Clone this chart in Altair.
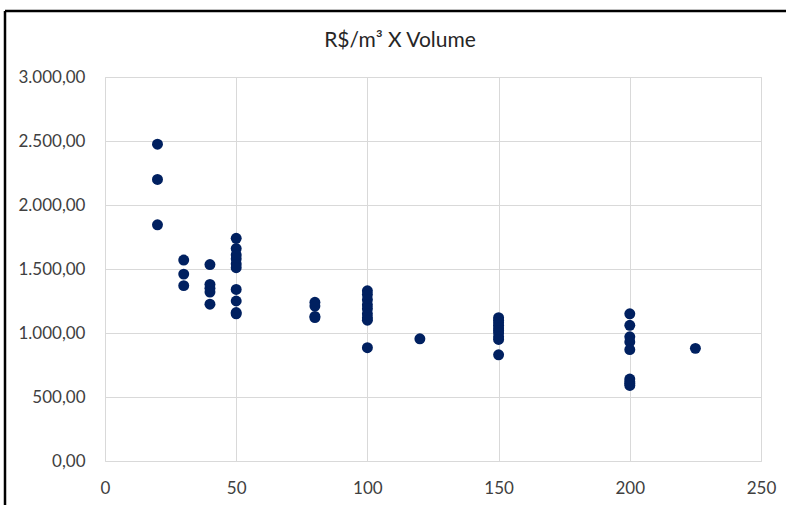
import altair as alt
import pandas as pd

# Volume (m³) groups and R$/m³ values
volumes = [20, 20, 20,
           30, 30, 30,
           40, 40, 40, 40, 40,
           50, 50, 50, 50, 50, 50, 50, 50, 50, 50,
           80, 80, 80, 80,
           100, 100, 100, 100, 100, 100, 100, 100, 100,
           120,
           150, 150, 150, 150, 150, 150, 150, 150, 150, 150,
           200, 200, 200, 200, 200, 200, 200, 200, 200,
           225]
prices = [2475, 2200, 1845,
          1570, 1460, 1370,
          1535, 1380, 1350, 1320, 1225,
          1740, 1660, 1610, 1580, 1540, 1510, 1340, 1250, 1160, 1150,
          1240, 1210, 1130, 1120,
          1330, 1300, 1260, 1220, 1190, 1150, 1120, 1100, 885,
          955,
          1120, 1100, 1080, 1060, 1040, 1020, 1000, 970, 950, 830,
          1150, 1060, 970, 930, 870, 640, 620, 605, 590,
          880]
x_ticks = [0, 50, 100, 150, 200, 250]
y_ticks = [0, 500, 1000, 1500, 2000, 2500, 3000]
title_text = "R$/m³ X Volume"

df = pd.DataFrame({"volume": volumes, "preco": prices})

FONT = "Lato"
LABEL_COLOR = "#404040"
GRID = "#d9d9d9"

points = alt.Chart(df).mark_circle(size=120, opacity=1, color="#002060").encode(
    x=alt.X("volume:Q",
            scale=alt.Scale(domain=[0, 250], nice=False, zero=True),
            axis=alt.Axis(values=x_ticks, title=None, grid=True, gridColor=GRID,
                          domain=False, ticks=False, labelPadding=19,
                          labelFontSize=17, labelColor=LABEL_COLOR, labelFont=FONT,
                          labelFlush=False)),
    y=alt.Y("preco:Q",
            scale=alt.Scale(domain=[0, 3000], nice=False),
            axis=alt.Axis(values=y_ticks, title=None, grid=True, gridColor=GRID,
                          domain=False, ticks=False, labelPadding=20,
                          labelFontSize=17, labelColor=LABEL_COLOR, labelFont=FONT,
                          labelExpr="replace(replace(replace(format(datum.value, ',.2f'), ',', '_'), '.', ','), '_', '.')")),
)

# chart title as a text mark (keeps it clear of the frame lines)
title = alt.Chart().mark_text(fontSize=21, font=FONT, color="#262626",
                              align="center", baseline="middle").encode(
    x=alt.value(295), y=alt.value(-36), text=alt.value(title_text))

# outer frame lines (top and left), like the cropped Excel chart border
frame_top = alt.Chart().mark_rule(color="black", strokeWidth=2.5).encode(
    x=alt.value(-100), x2=alt.value(700), y=alt.value(-66))
frame_left = alt.Chart().mark_rule(color="black", strokeWidth=2.5).encode(
    x=alt.value(-100), y=alt.value(-66), y2=alt.value(440))

chart = alt.layer(points, title, frame_top, frame_left).properties(
    width=656, height=384,
    autosize=alt.AutoSizeParams(type="none"),
    padding={"left": 105, "top": 77, "right": 25, "bottom": 44},
).configure_view(stroke=None).configure(background="white")

chart.save("out.html", embed_options={"renderer": "svg", "actions": False})
